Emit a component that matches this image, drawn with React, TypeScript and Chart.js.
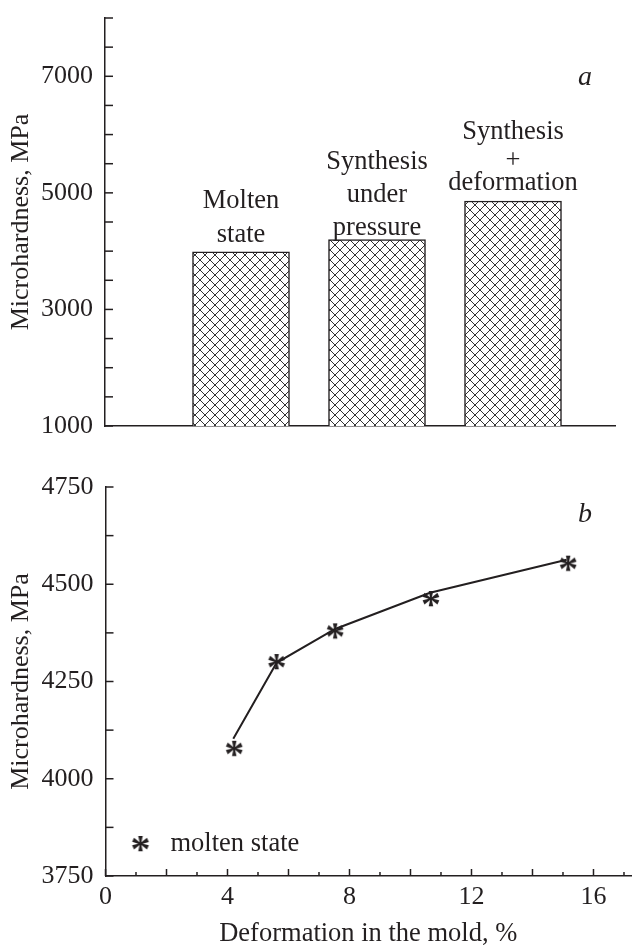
import React, { useEffect, useRef } from 'react';
import { Chart, registerables } from 'chart.js';

Chart.register(...registerables);

const FONT = '"Liberation Serif", "Times New Roman", Times, serif';
const INK = '#231f20';

// ---------- Panel a (bars) ----------
const barCategories: string[][] = [
  ['Molten', 'state'],
  ['Synthesis', 'under', 'pressure'],
  ['Synthesis', '+', 'deformation'],
];
const barPositions = [1, 2, 3];
const barValues = [3990, 4200, 4860];
const aYTickLabels = [1000, 3000, 5000, 7000];

// ---------- Panel b (line + stars) ----------
const fitX = [4.19, 5.61, 7.53, 10.64, 15.12];
const fitY = [4103, 4298, 4385, 4478, 4563];
const starX = [4.22, 5.61, 7.53, 10.67, 15.17];
const starY = [4077, 4300, 4379, 4462, 4553];
const bXTickLabels = [0, 4, 8, 12, 16];
const bYTickLabels = [3750, 4000, 4250, 4500, 4750];
const legendText = 'molten state';

// label baseline offsets above each bar top, px (style only)
const barLabelRise: number[][] = [
  [43.5, 10],
  [70, 37, 4.5],
  [62, 33, 11],
];

function makeHatch(): CanvasPattern | string {
  const c = document.createElement('canvas');
  const s = 10;
  c.width = s;
  c.height = s;
  const g = c.getContext('2d');
  if (!g) return '#fff';
  g.fillStyle = '#ffffff';
  g.fillRect(0, 0, s, s);
  g.strokeStyle = '#333';
  g.lineWidth = 1;
  g.beginPath();
  for (const k of [-s, 0, s]) {
    g.moveTo(k - 1, -1);
    g.lineTo(k + s + 1, s + 1);
    g.moveTo(k + s + 1, -1);
    g.lineTo(k - 1, s + 1);
  }
  g.stroke();
  return g.createPattern(c, 'repeat') || '#fff';
}

function makeStar(): HTMLCanvasElement {
  const c = document.createElement('canvas');
  const s = 28;
  c.width = s;
  c.height = s;
  const g = c.getContext('2d');
  if (!g) return c;
  g.fillStyle = INK;
  g.font = `bold 40px ${FONT}`;
  g.textAlign = 'center';
  g.textBaseline = 'alphabetic';
  const m = g.measureText('*');
  const asc = m.actualBoundingBoxAscent;
  const desc = m.actualBoundingBoxDescent;
  const left = m.actualBoundingBoxLeft;
  const right = m.actualBoundingBoxRight;
  const x = s / 2 - (right - left) / 2;
  const y = s / 2 + (asc - desc) / 2;
  g.fillText('*', x, y);
  return c;
}

type TickSpec = { axis: 'x' | 'y'; len: (v: number) => number };

function inwardTicks(specs: TickSpec[]) {
  return {
    id: 'inwardTicks',
    afterDraw(chart: any) {
      const ctx = chart.ctx;
      ctx.save();
      ctx.strokeStyle = INK;
      ctx.lineWidth = 1.5;
      for (const spec of specs) {
        const scale = chart.scales[spec.axis];
        for (const t of scale.ticks) {
          const p = scale.getPixelForValue(t.value);
          const L = spec.len(t.value);
          ctx.beginPath();
          if (spec.axis === 'x') {
            ctx.moveTo(p, scale.top);
            ctx.lineTo(p, scale.top - L);
          } else {
            ctx.moveTo(scale.right, p);
            ctx.lineTo(scale.right + L, p);
          }
          ctx.stroke();
        }
      }
      ctx.restore();
    },
  };
}

const axisBorder = { display: true, color: INK, width: 1.5 };
const noGrid = { display: false, drawTicks: false, offset: false };

export default function App() {
  const aRef = useRef<HTMLCanvasElement>(null);
  const bRef = useRef<HTMLCanvasElement>(null);

  useEffect(() => {
    Chart.defaults.font.family = FONT;
    Chart.defaults.color = INK;
    const hatch = makeHatch();
    const star = makeStar();

    // ---------- Chart a ----------
    const barLabelsPlugin = {
      id: 'barLabels',
      afterDatasetsDraw(chart: any) {
        const ctx = chart.ctx;
        const meta = chart.getDatasetMeta(0);
        ctx.save();
        ctx.fillStyle = INK;
        ctx.font = `26.5px ${FONT}`;
        ctx.textAlign = 'center';
        ctx.textBaseline = 'alphabetic';
        meta.data.forEach((el: any, i: number) => {
          const lines = barCategories[i];
          lines.forEach((ln, j) => {
            ctx.fillText(ln, el.x, el.y - barLabelRise[i][j]);
          });
        });
        const ca = chart.chartArea;
        ctx.font = `italic 28px ${FONT}`;
        ctx.textBaseline = 'middle';
        ctx.fillText('a', ca.right - 30, ca.top + 60);
        ctx.restore();
      },
    };

    const chartA = new Chart(aRef.current as HTMLCanvasElement, {
      type: 'bar',
      data: {
        datasets: [
          {
            data: barValues.map((v, i) => ({ x: barPositions[i], y: v })),
            backgroundColor: hatch as any,
            borderColor: INK,
            borderWidth: 1.5,
            base: 1000,
            barThickness: 97,
          } as any,
        ],
      },
      options: {
        responsive: false,
        animation: false,
        layout: { autoPadding: false, padding: { top: 18, right: 17, left: 0, bottom: 0 } },
        plugins: { legend: { display: false }, tooltip: { enabled: false } },
        scales: {
          x: {
            type: 'linear',
            min: 0,
            max: 3.75,
            offset: false,
            grid: noGrid,
            border: axisBorder,
            ticks: { display: false },
            afterFit: (s: any) => {
              s.height = 34;
              s.paddingLeft = 0;
              s.paddingRight = 0;
            },
          },
          y: {
            type: 'linear',
            min: 1000,
            max: 8000,
            grid: noGrid,
            border: axisBorder,
            ticks: {
              stepSize: 500,
              autoSkip: false,
              padding: 12,
              color: INK,
              font: { family: FONT, size: 26 },
              callback: (v: any) => (aYTickLabels.includes(Number(v)) ? String(v) : ''),
            },
            title: {
              display: true,
              text: 'Microhardness, MPa',
              color: INK,
              font: { family: FONT, size: 26, lineHeight: 1 },
              padding: { top: 8, bottom: 0 },
            },
            afterFit: (s: any) => {
              s.width = 105;
              s.paddingTop = 0;
              s.paddingBottom = 0;
            },
          },
        } as any,
      },
      plugins: [inwardTicks([{ axis: 'y', len: () => 8 }]), barLabelsPlugin],
    });

    // ---------- Chart b ----------
    const legendPlugin = {
      id: 'legendB',
      afterDraw(chart: any) {
        const ctx = chart.ctx;
        const ca = chart.chartArea;
        ctx.save();
        const sx = ca.left + 35;
        const sy = ca.bottom - 32;
        ctx.drawImage(star, sx - star.width / 2, sy - star.height / 2);
        ctx.fillStyle = INK;
        ctx.font = `26.5px ${FONT}`;
        ctx.textAlign = 'left';
        ctx.textBaseline = 'middle';
        ctx.fillText(legendText, sx + 30, sy);
        ctx.font = `italic 28px ${FONT}`;
        ctx.textAlign = 'center';
        ctx.fillText('b', ca.right - 46, ca.top + 28);
        ctx.restore();
      },
    };

    const chartB = new Chart(bRef.current as HTMLCanvasElement, {
      type: 'line',
      data: {
        datasets: [
          {
            data: fitX.map((x, i) => ({ x, y: fitY[i] })),
            borderColor: INK,
            borderWidth: 2,
            pointRadius: 0,
            tension: 0,
            fill: false,
          },
          {
            data: starX.map((x, i) => ({ x, y: starY[i] })),
            showLine: false,
            pointStyle: star as any,
            pointRadius: 7,
            borderWidth: 0,
          } as any,
        ],
      },
      options: {
        responsive: false,
        animation: false,
        layout: { autoPadding: false, padding: { top: 27, right: 1, left: 0, bottom: 0 } },
        plugins: { legend: { display: false }, tooltip: { enabled: false } },
        scales: {
          x: {
            type: 'linear',
            min: 0,
            max: 17.23,
            grid: noGrid,
            border: axisBorder,
            ticks: {
              stepSize: 1,
              autoSkip: false,
              includeBounds: false,
              maxRotation: 0,
              padding: 6,
              color: INK,
              font: { family: FONT, size: 26 },
              callback: (v: any) => (bXTickLabels.includes(Number(v)) ? String(v) : ''),
            },
            title: {
              display: true,
              text: 'Deformation in the mold, %',
              color: INK,
              font: { family: FONT, size: 26.5, lineHeight: 1 },
              padding: { top: 0, bottom: 0 },
            },
            afterFit: (s: any) => {
              s.height = 71;
              s.paddingLeft = 0;
              s.paddingRight = 0;
            },
          },
          y: {
            type: 'linear',
            min: 3750,
            max: 4750,
            grid: noGrid,
            border: axisBorder,
            ticks: {
              stepSize: 125,
              autoSkip: false,
              padding: 12,
              color: INK,
              font: { family: FONT, size: 26 },
              callback: (v: any) => (bYTickLabels.includes(Number(v)) ? String(v) : ''),
            },
            title: {
              display: true,
              text: 'Microhardness, MPa',
              color: INK,
              font: { family: FONT, size: 26, lineHeight: 1 },
              padding: { top: 8, bottom: 0 },
            },
            afterFit: (s: any) => {
              s.width = 105.5;
              s.paddingTop = 0;
              s.paddingBottom = 0;
            },
          },
        } as any,
      },
      plugins: [
        inwardTicks([
          { axis: 'x', len: (v) => (Math.round(v) % 2 === 0 ? 7 : 4) },
          { axis: 'y', len: () => 8 },
        ]),
        legendPlugin,
      ],
    });

    return () => {
      chartA.destroy();
      chartB.destroy();
    };
  }, []);

  return (
    <div style={{ position: 'absolute', left: 0, top: 0, width: 632, height: 947, background: '#fff' }}>
      <div style={{ position: 'absolute', left: 0, top: 0, width: 632, height: 460 }}>
        <canvas ref={aRef} width={632} height={460} />
      </div>
      <div style={{ position: 'absolute', left: 0, top: 460, width: 632, height: 487 }}>
        <canvas ref={bRef} width={632} height={487} />
      </div>
    </div>
  );
}
